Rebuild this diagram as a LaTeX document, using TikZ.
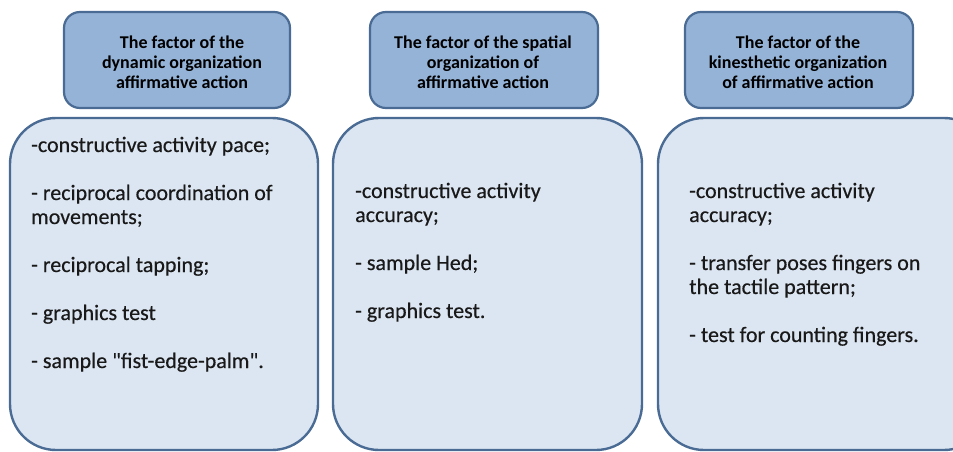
\documentclass[tikz,border=0pt]{standalone}
\usepackage{fontspec}
\setmainfont{Carlito}
\newfontfamily\bodyfont{Carlito}[FakeBold=0.4]
\definecolor{hdrfill}{RGB}{149,179,215}
\definecolor{boxfill}{RGB}{220,230,242}
\definecolor{edge}{RGB}{74,107,148}
\tikzset{
  hdr/.style={draw=edge, fill=hdrfill, line width=2.2pt, rounded corners=16pt},
  panel/.style={draw=edge, fill=boxfill, line width=2.4pt, rounded corners=46pt},
  hdrtext/.style={align=center, inner sep=0pt, font=\fontsize{18}{20}\selectfont\bfseries, text=black,
    execute at begin node={\spaceskip=0pt\xspaceskip=0pt}},
  bodytext/.style={anchor=base west, inner sep=0pt, text width=300pt, font=\bodyfont\fontsize{22}{24}\selectfont, text=black!90,
    execute at begin node={\spaceskip=0pt\xspaceskip=0pt\raggedright}}
}
\begin{document}
\begin{tikzpicture}[x=1pt,y=-1pt]
\useasboundingbox (0,0) rectangle (953,452);
\clip (0,0) rectangle (953,452);
% header boxes
\draw[hdr] (64,12) rectangle (290,108);
\draw[hdr] (370,12) rectangle (598,108);
\draw[hdr] (685,12) rectangle (913,108);
\node[hdrtext] (h1) at (182,62) {The factor of the\\dynamic organization\\affirmative action};
\node[hdrtext] (h2) at (483,62) {The factor of the spatial\\organization of\\affirmative action};
\node[hdrtext] (h3) at (798,62) {The factor of the\\kinesthetic organization\\of affirmative action};
% panels
\draw[panel] (10,118) rectangle (318,450);
\draw[panel] (333,118) rectangle (642,450);
\draw[panel] (658,118) rectangle (990,450);
% texts
\node[bodytext] (t1) at (31,152) {-constructive activity pace;\\[24pt]
- reciprocal coordination of\\movements;\\[24pt]
- reciprocal tapping;\\[24pt]
- graphics test\\[24pt]
- sample \char34 fist-edge-palm\char34 .};
\node[bodytext] (t2) at (355,198) {-constructive activity\\accuracy;\\[24pt]
- sample Hed;\\[24pt]
- graphics test.};
\node[bodytext] (t3) at (689,198) {-constructive activity\\accuracy;\\[24pt]
- transfer poses fingers on\\the tactile pattern;\\[24pt]
- test for counting fingers.};
\end{tikzpicture}
\end{document}
